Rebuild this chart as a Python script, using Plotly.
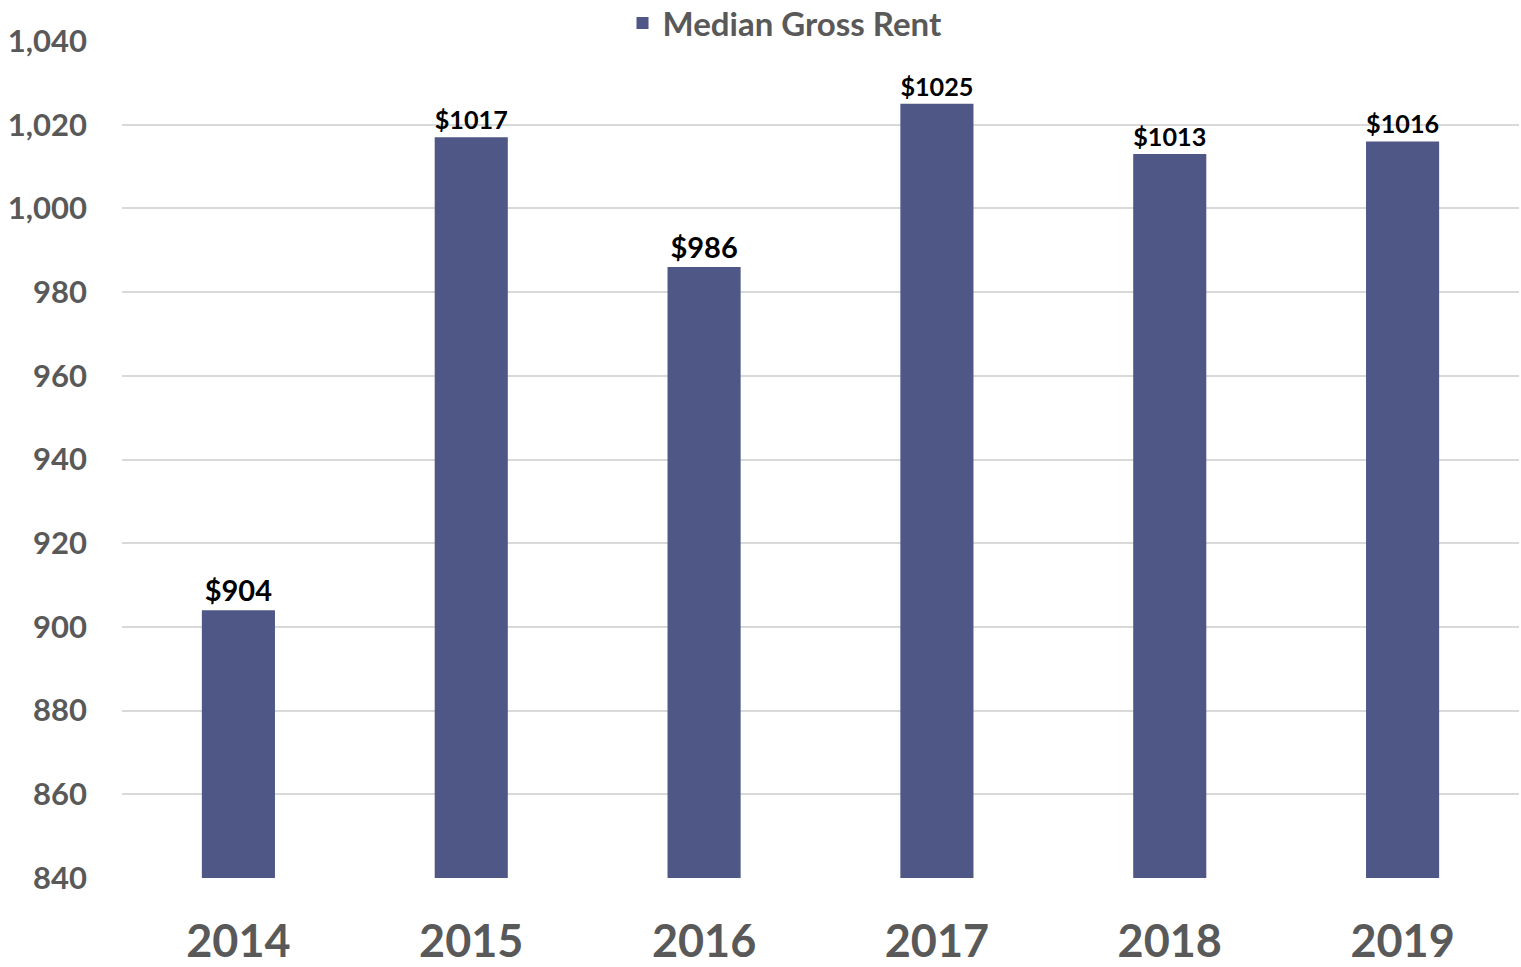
import plotly.graph_objects as go

years = ["2014", "2015", "2016", "2017", "2018", "2019"]
rent = [904, 1017, 986, 1025, 1013, 1016]
labels = ["$904", "$1017", "$986", "$1025", "$1013", "$1016"]
y_ticks = [840, 860, 880, 900, 920, 940, 960, 980, 1000, 1020, 1040]

FONT = "Lato"
GRAY = "#595959"

fig = go.Figure()
fig.add_trace(go.Bar(
    x=years, y=rent, name="Median Gross Rent",
    marker=dict(color="#4F5787", line=dict(width=0)),
    width=0.314,
    text=labels, textposition="outside", cliponaxis=False,
    textfont=dict(family=FONT, size=29, color="#000000", weight="bold"),
))

fig.update_layout(
    width=1521, height=967,
    margin=dict(l=122, r=2, t=41, b=89, autoexpand=False),
    plot_bgcolor="white", paper_bgcolor="white",
    showlegend=True,
    legend=dict(orientation="h", x=0.4746, xanchor="center", y=1.0215, yanchor="middle",
                font=dict(family=FONT, size=33, color=GRAY, weight="bold"),
                itemwidth=30, bgcolor="rgba(0,0,0,0)", borderwidth=0),
    font=dict(family=FONT),
)
fig.update_yaxes(
    range=[840, 1040], tickvals=y_ticks, ticktext=[f"{v:,}" for v in y_ticks],
    showgrid=True, gridcolor="#D9D9D9", gridwidth=2, zeroline=False,
    showline=False, ticklabelstandoff=34,
    tickfont=dict(family=FONT, size=31, color=GRAY, weight="bold"),
)
fig.update_xaxes(
    showgrid=False, showline=False, ticklabelstandoff=33,
    tickfont=dict(family=FONT, size=45, color=GRAY, weight="bold"),
)
fig.write_html("out.html", config={"displayModeBar": False},
               post_script="document.body.style.margin='0';")
